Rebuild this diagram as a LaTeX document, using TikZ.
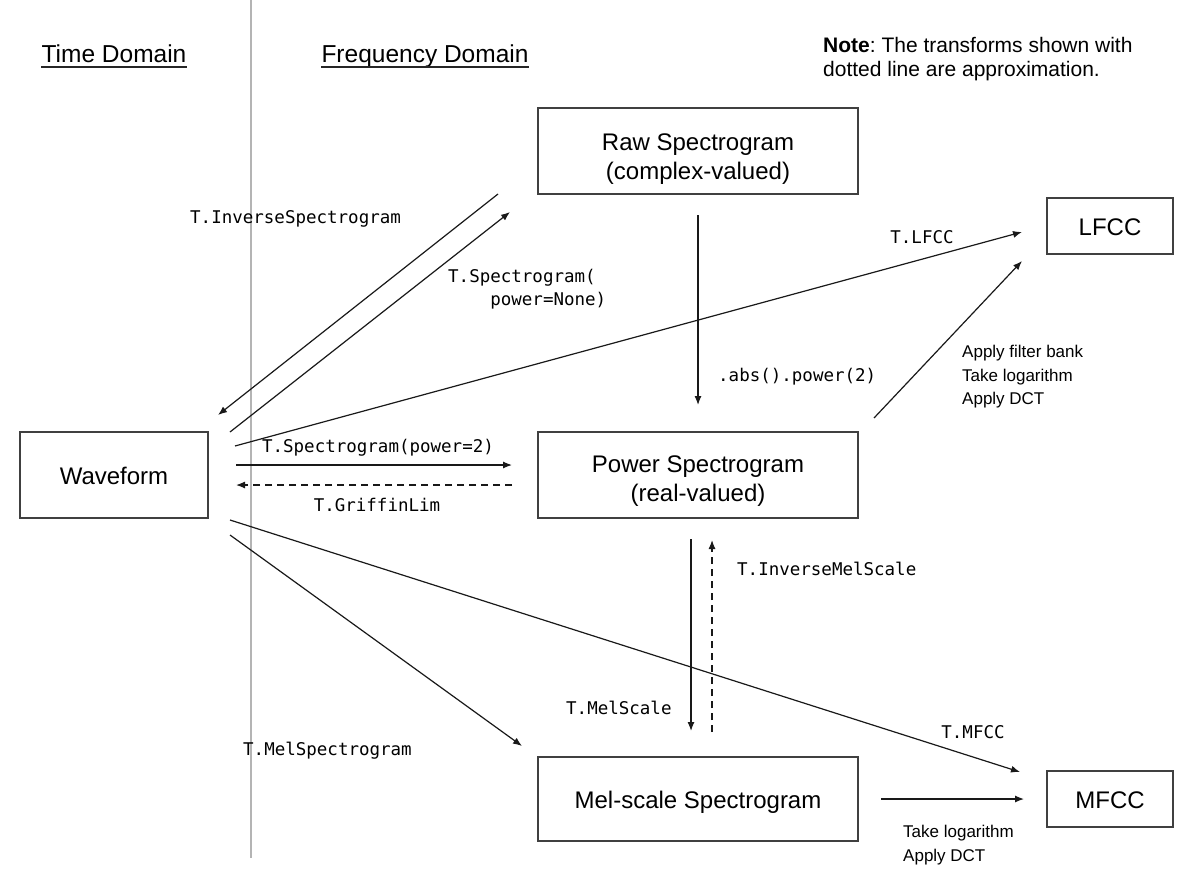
\documentclass[tikz,border=0pt]{standalone}
\usepackage{fontspec}
\setmainfont{Liberation Sans}
\newfontfamily\codefont{DejaVu Sans Mono}
\usetikzlibrary{arrows.meta}
\definecolor{boxline}{HTML}{404040}
\definecolor{sepline}{HTML}{B4B4B4}
\frenchspacing
\begin{document}
\begin{tikzpicture}[x=1pt,y=-1pt,
  box/.style={draw=boxline, line width=1.3pt, inner sep=0pt, fill=none},
  boxtxt/.style={font=\fontsize{24}{29}\selectfont, align=center, inner sep=0pt},
  onebox/.style={font=\fontsize{24}{29}\selectfont, inner sep=0pt, text height=17.2pt, text depth=0pt},
  code/.style={font=\codefont\fontsize{17.5}{23}\selectfont, inner sep=0pt, text height=12.8pt, text depth=0pt},
  codeml/.style={font=\codefont\fontsize{17.5}{23}\selectfont, inner sep=0pt, align=left},
  small/.style={font=\fontsize{17}{23.5}\selectfont, inner sep=0pt, align=left},
  head/.style={font=\fontsize{24.5}{29}\selectfont, inner sep=0pt},
  conn/.style={draw=black!90, line width=1.2pt, -{Latex[length=9pt,width=7pt]}},
  dconn/.style={conn, dash pattern=on 7pt off 5pt}
]
\useasboundingbox (0,0) rectangle (1198,888);
\fill[white] (0,0) rectangle (1198,888);

% separator
\coordinate (septop) at (251,0);
\coordinate (sepbot) at (251,858);
\draw[sepline, line width=1.5pt] (septop) -- (sepbot);

% headings
\node[head, anchor=base] (tdh) at (114,63) {Time Domain};
\node[head, anchor=base] (fdh) at (425,63) {Frequency Domain};
\draw[black!85, line width=1.4pt] ([yshift=-4pt]tdh.base west) -- ([yshift=-4pt]tdh.base east);
\draw[black!85, line width=1.4pt] ([yshift=-4pt]fdh.base west) -- ([yshift=-4pt]fdh.base east);

% note
\node[font=\fontsize{21}{24}\selectfont, inner sep=0pt, align=left, anchor=north west] (note) at (823,37)
  {\textbf{Note}: The transforms shown with\\dotted line are approximation.};

% boxes
\node[box, minimum width=188pt, minimum height=86pt] (wave) at (114,475) {};
\node[onebox] (wavet) at (114,475.5) {Waveform};
\node[box, minimum width=320pt, minimum height=86pt] (raw) at (698,151) {};
\node[boxtxt, anchor=north] (rawt) at (698,134) {Raw Spectrogram\\(complex-valued)};
\node[box, minimum width=320pt, minimum height=86pt] (pow) at (698,475) {};
\node[boxtxt, anchor=north] (powt) at (698,456) {Power Spectrogram\\(real-valued)};
\node[box, minimum width=320pt, minimum height=84pt] (mel) at (698,799) {};
\node[onebox] (melt) at (698,800) {Mel-scale Spectrogram};
\node[box, minimum width=126pt, minimum height=56pt] (lfcc) at (1110,226) {};
\node[onebox] (lfcct) at (1110,227) {LFCC};
\node[box, minimum width=126pt, minimum height=56pt] (mfcc) at (1110,799) {};
\node[onebox] (mfcct) at (1110,800) {MFCC};

% connector end points
\coordinate (a1s) at (498,194); \coordinate (a1e) at (218,415);
\coordinate (a2s) at (230,432); \coordinate (a2e) at (510,212);
\coordinate (a3s) at (235,446); \coordinate (a3e) at (1022,232);
\coordinate (a4s) at (874,418); \coordinate (a4e) at (1022,261);
\coordinate (a5s) at (236,465); \coordinate (a5e) at (512,465);
\coordinate (a6s) at (512,485); \coordinate (a6e) at (236,485);
\coordinate (a7s) at (698,215); \coordinate (a7e) at (698,405);
\coordinate (a8s) at (691,539); \coordinate (a8e) at (691,731);
\coordinate (a9s) at (712,732); \coordinate (a9e) at (712,540);
\coordinate (a10s) at (230,520); \coordinate (a10e) at (1020,772);
\coordinate (a11s) at (230,535); \coordinate (a11e) at (522,746);
\coordinate (a12s) at (881,799); \coordinate (a12e) at (1024,799);

\draw[conn] (a1s) -- (a1e);
\draw[conn] (a2s) -- (a2e);
\draw[conn] (a3s) -- (a3e);
\draw[conn] (a4s) -- (a4e);
\draw[conn] (a5s) -- (a5e);
\draw[dconn] (a6s) -- (a6e);
\draw[conn] (a7s) -- (a7e);
\draw[conn] (a8s) -- (a8e);
\draw[dconn] (a9s) -- (a9e);
\draw[conn] (a10s) -- (a10e);
\draw[conn] (a11s) -- (a11e);
\draw[conn] (a12s) -- (a12e);

% labels
\node[code, anchor=west] (l1) at (190,217) {T.InverseSpectrogram};
\node[codeml, anchor=north west] (l2) at (448,269) {T.Spectrogram(\\\hphantom{xxxx}power=None)};
\node[code] (l3) at (922,237) {T.LFCC};
\node[small, anchor=north west] (l4) at (962,345) {Apply filter bank\\Take logarithm\\Apply DCT};
\node[code] (l5) at (378,446) {T.Spectrogram(power=2)};
\node[code] (l6) at (377,505) {T.GriffinLim};
\node[code, anchor=west] (l7) at (718,375) {.abs().power(2)};
\node[code, anchor=west] (l8) at (737,569) {T.InverseMelScale};
\node[code, anchor=west] (l9) at (566,708) {T.MelScale};
\node[code, anchor=west] (l10) at (243,749) {T.MelSpectrogram};
\node[code] (l11) at (973,732) {T.MFCC};
\node[small, anchor=north west] (l12) at (903,825) {Take logarithm\\Apply DCT};
\end{tikzpicture}
\end{document}
